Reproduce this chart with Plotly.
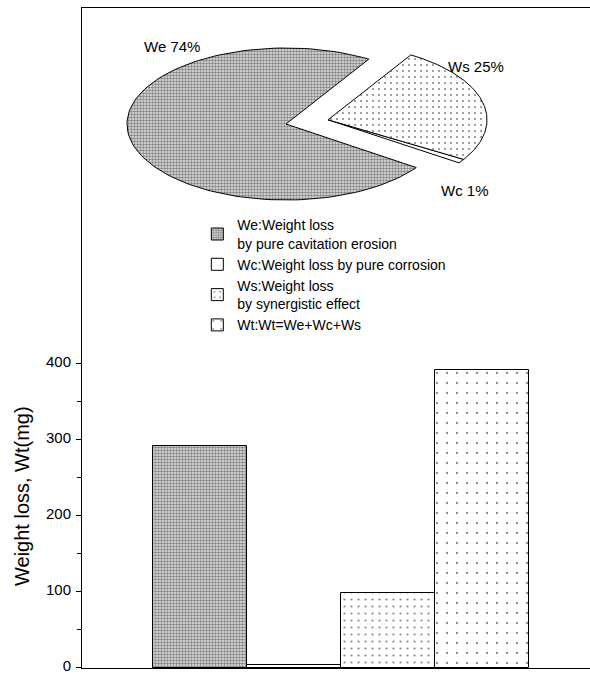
import numpy as np
import plotly.graph_objects as go

# ---- data ----
bar_names = ["We", "Wc", "Ws", "Wt"]
bar_values = [292, 3, 98, 392]
legend_text = [
    "We:Weight loss<br>by pure cavitation erosion",
    "Wc:Weight loss by pure corrosion",
    "Ws:Weight loss<br>by synergistic effect",
    "Wt:Wt=We+Wc+Ws",
]
pie_names = ["Wc", "Ws", "We"]          # counter-clockwise order
pie_percent = [1, 25, 74]
pie_labels = ["Wc 1%", "Ws 25%", "We 74%"]
y_ticks = [0, 100, 200, 300, 400]
y_minor = [50, 150, 250, 350]

FONT = "Liberation Sans, Arial, Helvetica, sans-serif"

patterns = {
    "We": dict(shape=".", size=3, solidity=0.55, fgcolor="#222", bgcolor="#e6e6e6"),
    "Wc": dict(shape="", bgcolor="white"),
    "Ws": dict(shape=".", size=7, solidity=0.08, fgcolor="#111", bgcolor="white"),
    "Wt": dict(shape=".", size=10, solidity=0.04, fgcolor="#111", bgcolor="white"),
}

fig = go.Figure()
for i, (n, v, t) in enumerate(zip(bar_names, bar_values, legend_text)):
    fig.add_trace(go.Bar(
        x=[i], y=[v], name=t, width=1.0,
        marker=dict(color="white", line=dict(color="black", width=1),
                    pattern=patterns[n]),
        showlegend=True,
    ))

# ---- elliptical exploded pie drawn in an overlay (pixel-like) axis ----
cx, cy, rx, ry = 286, 124, 159, 76
start = -35.0
explode = 0.27
angles = []
a = start
for p in pie_percent:
    angles.append((a, a + p * 3.6))
    a += p * 3.6
grp_start, grp_end = angles[0][0], angles[1][1]
mid = np.deg2rad((grp_start + grp_end) / 2)
off = (explode * rx * np.cos(mid), -explode * ry * np.sin(mid))

for name, (a0, a1) in zip(pie_names, angles):
    t = np.deg2rad(np.linspace(a0, a1, 120))
    ox, oy = (off if name in ("Wc", "Ws") else (0, 0))
    xs = np.concatenate([[cx + ox], cx + ox + rx * np.cos(t), [cx + ox]])
    ys = np.concatenate([[cy + oy], cy + oy - ry * np.sin(t), [cy + oy]])
    pat = patterns[name]
    kw = {}
    if pat.get("shape"):
        pp = dict(pat)
        if name == "Ws":
            pp["size"] = 6
            pp["solidity"] = 0.1
        kw["fillpattern"] = pp
    fig.add_trace(go.Scatter(
        x=xs, y=ys, mode="lines", fill="toself", fillcolor=pat.get("bgcolor", "white"),
        line=dict(color="black", width=1), xaxis="x2", yaxis="y2",
        showlegend=False, hoverinfo="skip", **kw,
    ))

label_pos = {"Wc": (465, 190), "Ws": (476, 66), "We": (172, 46)}
for name, lab in zip(pie_names, pie_labels):
    lx, ly = label_pos[name]
    fig.add_annotation(x=lx, y=ly, xref="x2", yref="y2", text=lab, showarrow=False,
                       font=dict(size=15, color="black", family=FONT))

fig.add_annotation(x=(22 - 82) / 508, y=(668 - 496) / 660, xref="paper", yref="paper",
                   xanchor="center", yanchor="middle",
                   text="Weight loss, Wt(mg)", textangle=-90, showarrow=False,
                   font=dict(size=20, color="black", family=FONT))

fig.update_layout(
    width=590, height=675,
    margin=dict(l=82, r=0, t=8, b=7, autoexpand=False),
    plot_bgcolor="white", paper_bgcolor="white",
    font=dict(family=FONT, color="black", size=14),
    bargap=0,
    xaxis=dict(range=[-1.255, 4.149], showticklabels=False, ticks="", showgrid=False,
               zeroline=False, showline=True, linecolor="black", linewidth=1, mirror=True),
    yaxis=dict(range=[-0.5, 868], tickvals=y_ticks, ticks="outside", ticklen=5,
               tickcolor="black", showgrid=False, zeroline=False, showline=True,
               linecolor="black", linewidth=1, tickfont=dict(size=15),
               ticklabelposition="outside top", ticklabelshift=9, ticklabelstandoff=7,
               minor=dict(tickvals=y_minor, ticks="outside", ticklen=4, tickcolor="black")),
    xaxis2=dict(range=[82, 590], overlaying="x", visible=False, anchor="y2"),
    yaxis2=dict(range=[668, 8], overlaying="y", visible=False, anchor="x2"),
    legend=dict(x=0.227, y=0.695, xanchor="left", yanchor="top", bgcolor="rgba(0,0,0,0)",
                font=dict(size=14, family=FONT, color="black"), tracegroupgap=0,
                itemwidth=30),
)

fig.write_html("out.html", config={"displayModeBar": False},
               post_script="document.body.style.margin='0';")
